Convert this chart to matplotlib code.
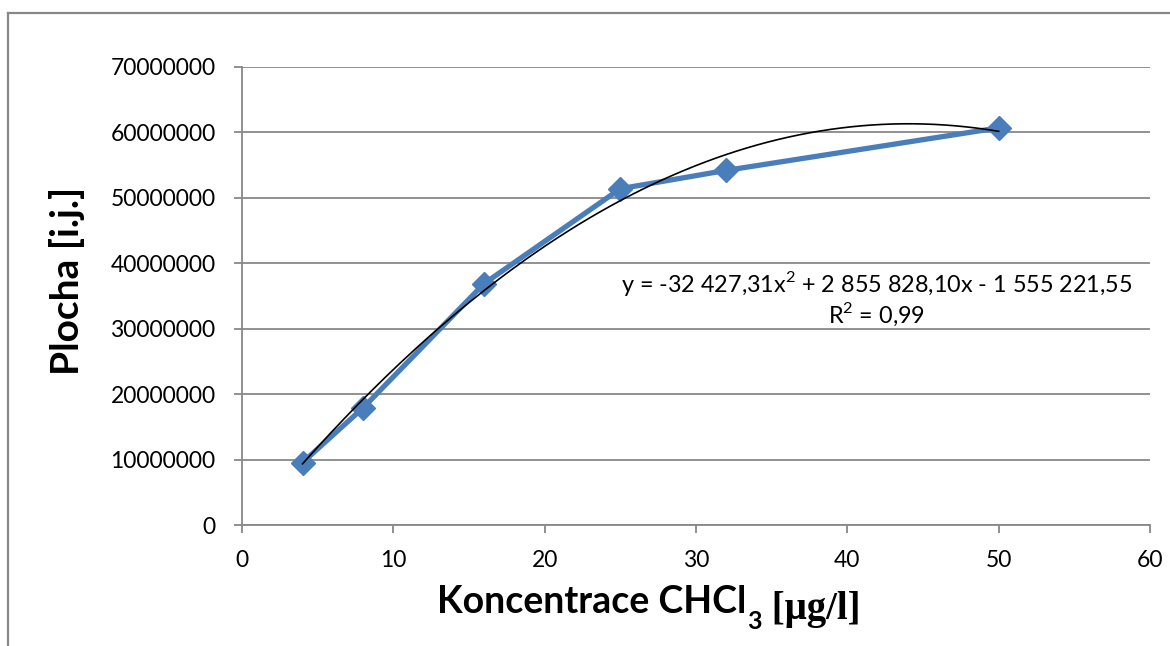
import numpy as np
import matplotlib
matplotlib.use('Agg')
import matplotlib.pyplot as plt
from matplotlib.lines import Line2D

plt.rcParams['font.family'] = ['Lato', 'DejaVu Sans']
plt.rcParams['mathtext.fontset'] = 'custom'
plt.rcParams['mathtext.rm'] = 'Lato'

# data
konc = [4, 8, 16, 25, 32, 50]
plocha = [9.55e6, 17.9e6, 36.9e6, 51.4e6, 54.2e6, 60.7e6]
koef = [-32427.31, 2855828.10, -1555221.55]
y_ticks = [0, 10000000, 20000000, 30000000, 40000000, 50000000, 60000000, 70000000]
x_ticks = [0, 10, 20, 30, 40, 50, 60]

seda = '#888888'
modra = '#4A7EBB'

fig = plt.figure(figsize=(11.7, 6.46), dpi=100)
ax = fig.add_axes([242/1170, 1-525/646, 908/1170, 458/646])

# ramecek grafu
fig.add_artist(Line2D([8/1170, 8/1170], [0, 1-13/646], color=seda, lw=1.6))
fig.add_artist(Line2D([8/1170, 1], [1-13/646, 1-13/646], color=seda, lw=1.6))

ax.plot(konc, plocha, color=modra, lw=3.8, marker='D', ms=12, zorder=3)

xx = np.linspace(min(konc), max(konc), 200)
ax.plot(xx, np.polyval(koef, xx), color='black', lw=1.2, zorder=4)

ax.set_xlim(0, 60)
ax.set_ylim(0, 70000000)
ax.set_xticks(x_ticks)
ax.set_yticks(y_ticks)
ax.set_yticklabels([str(v) for v in y_ticks])
ax.yaxis.grid(True, color=seda, lw=1.3)
ax.set_axisbelow(True)
for s in ['top', 'right']:
    ax.spines[s].set_visible(False)
for s in ['left', 'bottom']:
    ax.spines[s].set_color(seda)
    ax.spines[s].set_linewidth(1.3)
ax.tick_params(axis='both', colors=seda, labelcolor='black', labelsize=16.5,
               length=6, width=1.3)
ax.tick_params(axis='y', pad=13)
ax.tick_params(axis='x', pad=12)

ax.text(0.699, 0.508, r'y = -32 427,31x$^\mathrm{2}$ + 2 855 828,10x - 1 555 221,55',
        transform=ax.transAxes, ha='center', va='baseline', fontsize=16.8)
ax.text(0.699, 0.441, r'R$^\mathrm{2}$ = 0,99', transform=ax.transAxes,
        ha='center', va='baseline', fontsize=16.8)

fig.text(67/1170, 1-281/646, 'Plocha [i.j.]', rotation=90, ha='center',
         va='center', fontsize=28, fontweight='bold')

t1 = fig.text(437/1170, 1-613/646, 'Koncentrace CHCl', ha='left',
              va='baseline', fontsize=27, fontweight='bold')
t2 = fig.add_artist(plt.Annotation('3', xy=(1, 0), xycoords=t1,
                                   xytext=(0.5, -7), textcoords='offset points',
                                   ha='left', va='baseline', fontsize=18,
                                   fontweight='bold'))
fig.add_artist(plt.Annotation(' [μg/l]', xy=(1, 0), xycoords=(t2, t1),
                              xytext=(0, 0), textcoords='offset points',
                              ha='left', va='baseline', fontsize=28,
                              fontweight='bold', family='Liberation Serif'))

plt.savefig('out.png', dpi=100)
